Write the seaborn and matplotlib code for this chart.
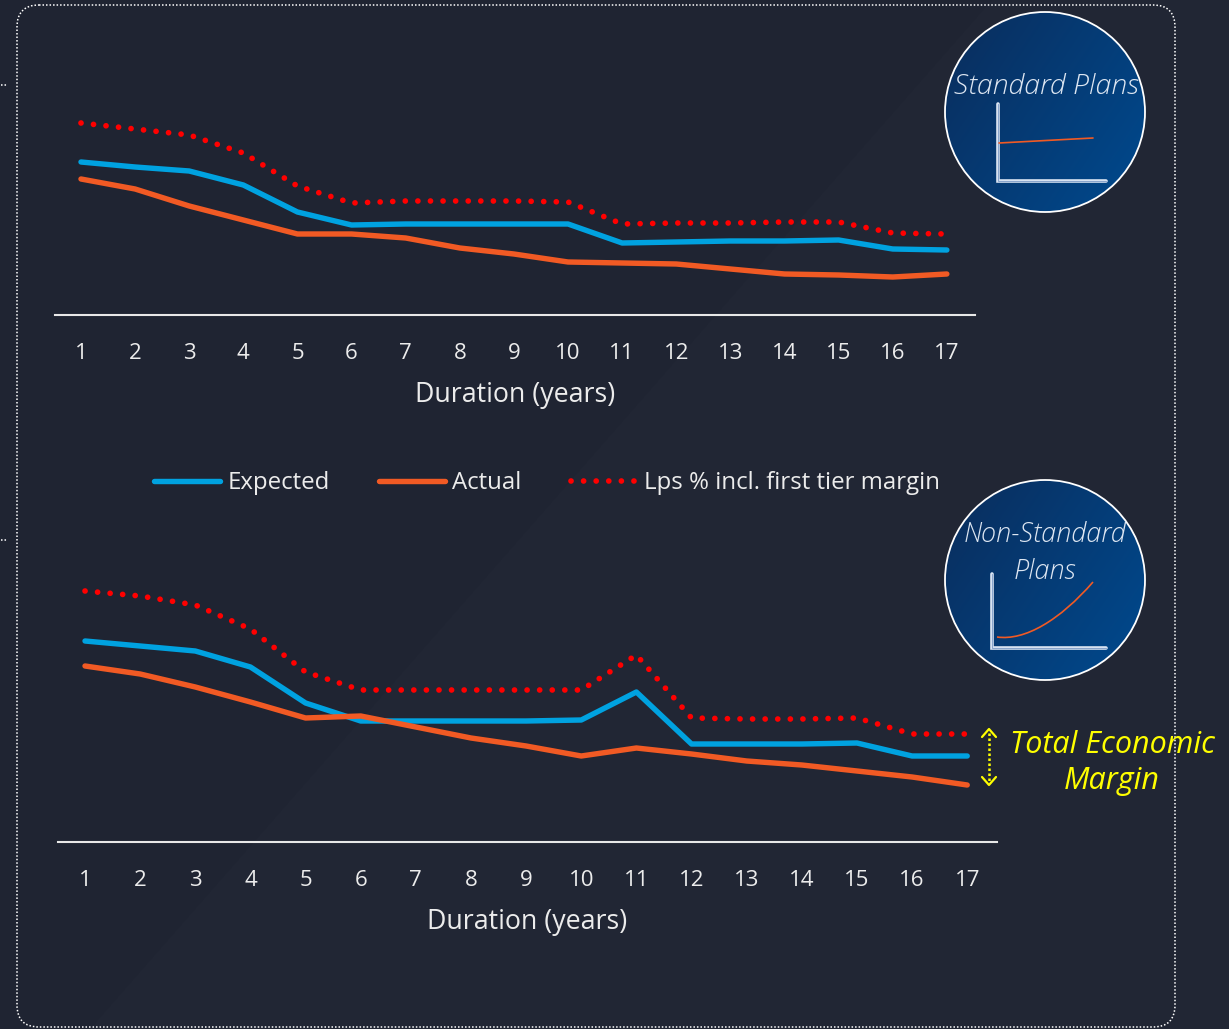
import numpy as np
import pandas as pd
import matplotlib
matplotlib.use("Agg")
import matplotlib.pyplot as plt
import seaborn as sns
from matplotlib.patches import Circle, FancyBboxPatch, Polygon, PathPatch
from matplotlib.path import Path
from matplotlib.lines import Line2D
from matplotlib.colors import LinearSegmentedColormap

# ---------------- data ----------------
durations = list(range(1, 18))
tick_labels = [str(d) for d in durations]

std_expected = [15.3, 14.8, 14.4, 13.0, 10.3, 9.0, 9.1, 9.1, 9.1, 9.1, 7.2, 7.3, 7.4, 7.4, 7.5, 6.6, 6.5]
std_actual = [13.6, 12.6, 10.9, 9.5, 8.1, 8.1, 7.7, 6.7, 6.1, 5.3, 5.2, 5.1, 4.6, 4.1, 4.0, 3.8, 4.1]
std_lps = [19.2, 18.6, 18.0, 16.2, 12.9, 11.2, 11.4, 11.4, 11.4, 11.3, 9.1, 9.2, 9.2, 9.3, 9.3, 8.2, 8.1]

ns_expected = [20.1, 19.6, 19.1, 17.5, 13.9, 12.1, 12.1, 12.1, 12.1, 12.2, 15.0, 9.8, 9.8, 9.8, 9.9, 8.6, 8.6]
ns_actual = [17.6, 16.8, 15.5, 14.0, 12.4, 12.6, 11.5, 10.4, 9.6, 8.6, 9.4, 8.8, 8.1, 7.7, 7.1, 6.5, 5.7]
ns_lps = [25.1, 24.6, 23.7, 21.3, 17.0, 15.2, 15.2, 15.2, 15.2, 15.2, 18.7, 12.4, 12.3, 12.3, 12.4, 10.8, 10.8]

series_names = ["Expected", "Actual", "Lps % incl. first tier margin"]
x_label = "Duration (years)"
circle_titles = ["Standard Plans", "Non-Standard\nPlans"]
margin_label = "Total Economic\nMargin"

# ---------------- style ----------------
BG = "#1f2432"
BG2 = "#212634"
BLUE = "#00a2e0"
ORANGE = "#f15a24"
RED = "#ff0000"
TXT = "#ececec"
YELLOW = "#ffff00"
DOTS = (0, (0.01, 2.2))

sns.set_theme(style="white")
plt.rcParams['font.family'] = ['Open Sans', 'DejaVu Sans']

W, H = 1229, 1029
fig = plt.figure(figsize=(W / 100, H / 100), dpi=100, facecolor=BG)

# background layer (pixel coordinates)
bg = fig.add_axes([0, 0, 1, 1], zorder=0)
bg.set_xlim(0, W)
bg.set_ylim(H, 0)
bg.axis('off')
bg.add_patch(Polygon([(90, 1029), (992, 0), (W, 0), (W, H)], closed=True, fc=BG2, ec='none'))
bg.add_patch(FancyBboxPatch((17, 5), 1158, 1022, boxstyle="round,pad=0,rounding_size=22",
                            fill=False, ec='white', lw=1.1, ls=(0, (1, 1.3))))
for yy in (85, 540):
    bg.plot([1, 8], [yy, yy], color='white', lw=1.1, ls=(0, (1, 1.3)))


def make_panel(rect, xlim, ylim, exp, act, lps, label_y):
    ax = fig.add_axes(rect, zorder=2)
    ax.set_facecolor('none')
    df = pd.DataFrame({"Duration": durations, "Expected": exp, "Actual": act, "Lps": lps})
    sns.lineplot(data=df, x="Duration", y="Expected", ax=ax, color=BLUE, lw=3.9,
                 solid_capstyle='round', solid_joinstyle='round', legend=False)
    sns.lineplot(data=df, x="Duration", y="Actual", ax=ax, color=ORANGE, lw=3.9,
                 solid_capstyle='round', solid_joinstyle='round', legend=False)
    sns.lineplot(data=df, x="Duration", y="Lps", ax=ax, color=RED, lw=4.1,
                 ls=DOTS, dash_capstyle='round', legend=False)
    ax.set_xlim(*xlim)
    ax.set_ylim(*ylim)
    ax.set_xticks(durations)
    ax.set_xticklabels(tick_labels)
    ax.set_yticks([])
    ax.set_ylabel("")
    for s in ("left", "right", "top"):
        ax.spines[s].set_visible(False)
    ax.spines["bottom"].set_color("#e8e8e8")
    ax.spines["bottom"].set_linewidth(1.5)
    ax.tick_params(axis='x', length=0, pad=20, labelsize=16, labelcolor=TXT)
    ax.set_xlabel(x_label, fontsize=19.3, color=TXT)
    ax.xaxis.set_label_coords(0.5, label_y)
    ax.xaxis.label.set_va('center')
    return ax


ax1 = make_panel([55 / W, 1 - 315 / H, 920 / W, 275 / H], (0.52, 17.52), (0, 27.5),
                 std_expected, std_actual, std_lps, -80 / 275)
ax2 = make_panel([58 / W, 1 - 842 / H, 939 / W, 282 / H], (0.51, 17.54), (0, 28.2),
                 ns_expected, ns_actual, ns_lps, -80 / 282)

handles = [
    Line2D([], [], color=BLUE, lw=3.9, solid_capstyle='round'),
    Line2D([], [], color=ORANGE, lw=3.9, solid_capstyle='round'),
    Line2D([], [], color=RED, lw=4.1, ls=DOTS, dash_capstyle='round'),
]
fig.legend(handles, series_names, loc='center', bbox_to_anchor=(547 / W, 1 - 483 / H), ncol=3,
           frameon=False, fontsize=17.3, handlelength=2.75, handletextpad=0.3, columnspacing=2.05,
           labelcolor=TXT)

# overlay layer (pixel coordinates)
ov = fig.add_axes([0, 0, 1, 1], zorder=5)
ov.patch.set_visible(False)
ov.axis('off')

cmap = LinearSegmentedColormap.from_list('circ', ['#0a2d5c', '#004a8f'])
g = np.linspace(0, 1, 256)
GX, GY = np.meshgrid(g, g)
GZ = 0.6 * GX + 0.4 * GY


def draw_circle(cx, cy, r):
    im = ov.imshow(GZ, cmap=cmap, extent=(cx - r, cx + r, cy + r, cy - r), aspect='auto',
                   interpolation='bilinear', zorder=5)
    circ = Circle((cx, cy), r, fc='none', ec='white', lw=1.3, zorder=6)
    ov.add_patch(circ)
    im.set_clip_path(circ)


def mini_axes(x0, ytop, ybot, x1):
    ov.plot([x0, x0, x1], [ytop, ybot, ybot], color='#dce6f4', lw=2.6, zorder=7,
            solid_joinstyle='miter')
    ov.plot([x0, x0, x1], [ytop, ybot, ybot], color='#8aa5cc', lw=0.8, zorder=8,
            solid_joinstyle='miter')


draw_circle(1045, 112, 100)
draw_circle(1045, 580, 100)
mini_axes(998, 104, 181, 1106)
mini_axes(992, 574, 648, 1106)
ov.plot([999, 1093], [143, 138], color=ORANGE, lw=1.2, zorder=9)
curve = Path([(997, 637), (1025, 641), (1060, 620), (1093, 582)],
             [Path.MOVETO, Path.CURVE4, Path.CURVE4, Path.CURVE4])
ov.add_patch(PathPatch(curve, fc='none', ec=ORANGE, lw=1.2, zorder=9))

ov.text(1046, 87, circle_titles[0], ha='center', va='center', fontsize=20.5, fontstyle='italic',
        fontweight='light', color='#dde6f2', zorder=10)
ov.text(1045, 553, circle_titles[1], ha='center', va='center', fontsize=19.5, fontstyle='italic',
        fontweight='light', color='#dde6f2', zorder=10, linespacing=1.5)

# total economic margin annotation
ov.plot([989, 989], [733, 781], color=YELLOW, lw=1.8, ls=(0, (1, 1)), zorder=10)
ov.plot([982, 989, 996], [737, 729, 737], color=YELLOW, lw=1.6, zorder=10)
ov.plot([982, 989, 996], [777, 785, 777], color=YELLOW, lw=1.6, zorder=10)
ov.text(1112, 763, margin_label, ha='center', va='center', fontsize=22, fontstyle='italic',
        color=YELLOW, zorder=10, linespacing=1.25)

ov.set_xlim(0, W)
ov.set_ylim(H, 0)

fig.savefig("out.png", dpi=100, facecolor=BG)
